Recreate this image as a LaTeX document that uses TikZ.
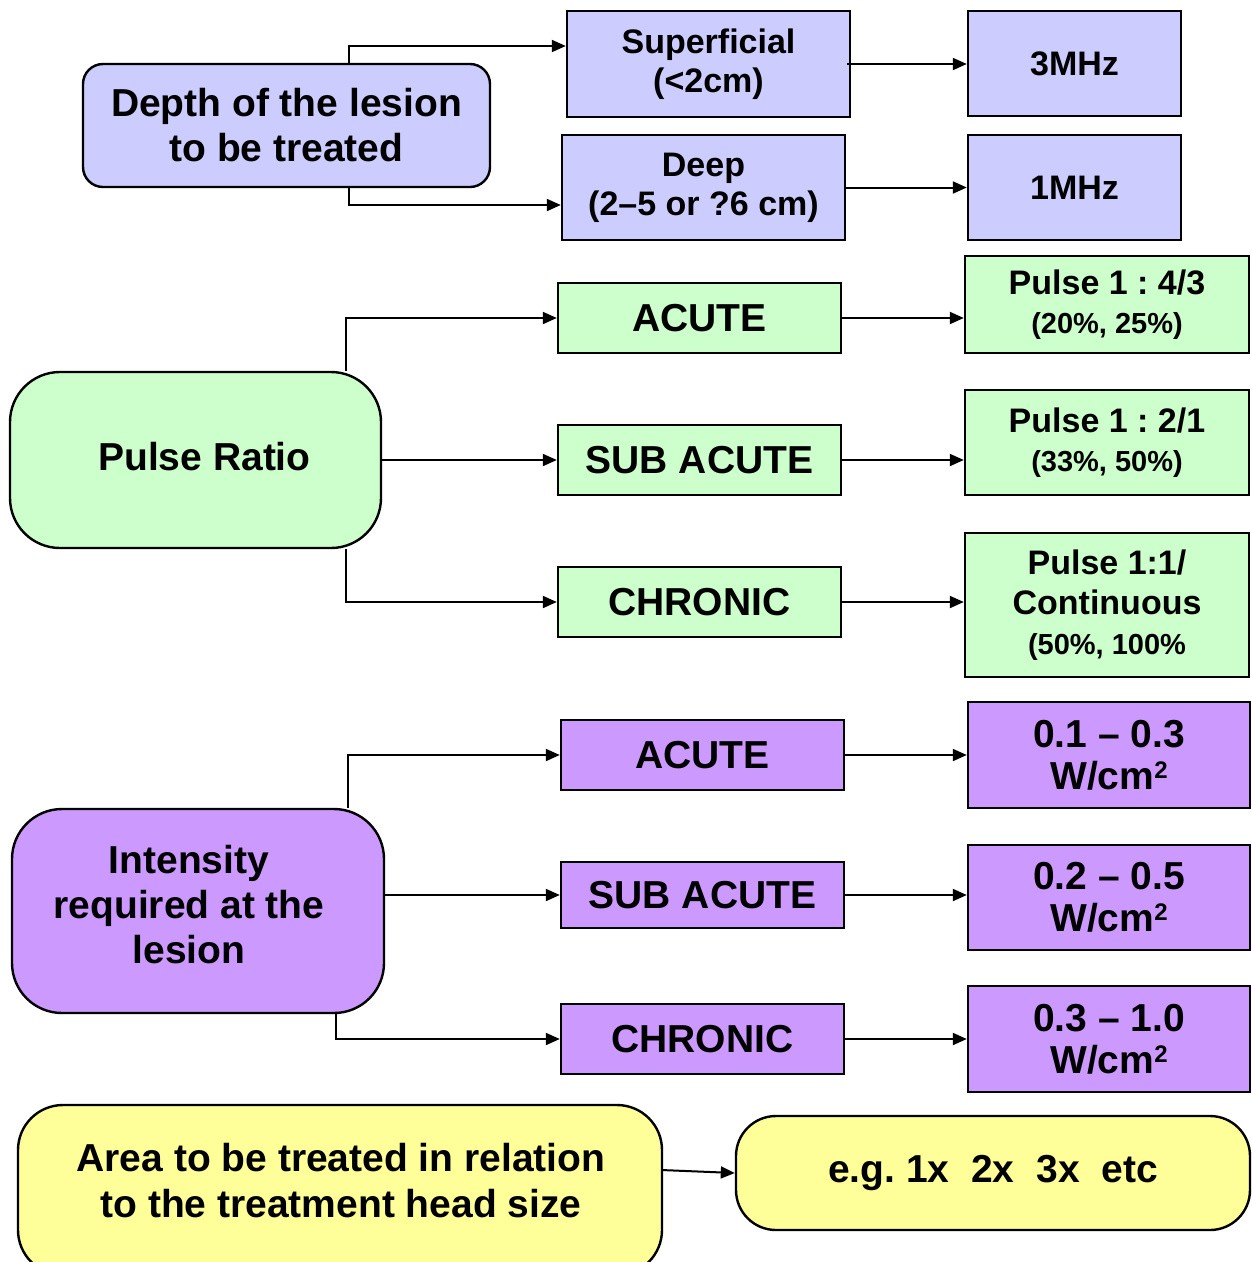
\documentclass[tikz,border=0pt]{standalone}
\usepackage{fontspec}
\setmainfont{Liberation Sans}
\usetikzlibrary{arrows.meta,calc}

\definecolor{lav}{HTML}{CCCCFF}
\definecolor{mint}{HTML}{CCFFCC}
\definecolor{lilac}{HTML}{CC99FF}
\definecolor{lemon}{HTML}{FFFF99}

\newcommand\szL{\fontsize{39}{45}\selectfont}
\newcommand\szW{\fontsize{39}{42}\selectfont}
\newcommand\szM{\fontsize{34}{39}\selectfont}
\newcommand\szS{\fontsize{29}{36}\selectfont}
% squared unit with a larger raised 2
\newcommand\sqcm{W/cm\raisebox{11pt}{\fontsize{24}{24}\selectfont 2}}

\frenchspacing

\begin{document}
\begin{tikzpicture}[x=1pt,y=-1pt,
  box/.style={draw=black, line width=2.4pt, inner sep=0pt, align=center, font=\bfseries},
  dims/.style 2 args={minimum width=#1pt, minimum height=#2pt},
  arr/.style={line width=2pt, -{Triangle[length=14pt,width=12pt]}},
  plain/.style={inner sep=0pt, align=center, font=\bfseries},
]
\useasboundingbox (0,0) rectangle (1252,1262);
\clip (0,0) rectangle (1252,1262);

% ---- depth of the lesion -> frequency
\node[box, fill=lav, rounded corners=20pt, dims={407}{123}, font=\bfseries\szL] (dep) at (286.5,125.5) {Depth of the lesion\\to be treated};
\node[box, fill=lav, dims={283}{106}, font=\bfseries\szM] (sup) at (708.5,64) {Superficial\\(<2cm)};
\node[box, fill=lav, dims={283}{105}, font=\bfseries\szM] (deep) at (703.5,187.5) {Deep\\(2–5 or ?6 cm)};
\node[box, fill=lav, dims={213}{105}, font=\bfseries\szM] (f3) at (1074.5,63.5) {3MHz};
\node[box, fill=lav, dims={213}{105}, font=\bfseries\szM] (f1) at (1074.5,187.5) {1MHz};

\draw[arr] ([xshift=62.5pt]dep.north) |- ([yshift=18pt]sup.west);
\draw[arr] ([xshift=62.5pt]dep.south) |- ([yshift=-17.5pt]deep.west);
\draw[arr] ([xshift=-4pt]sup.east) -- (sup.east -| f3.west);
\draw[arr] (deep.east) -- (deep.east -| f1.west);

% ---- pulse ratio
\node[box, fill=mint, rounded corners=50pt, dims={371}{176}] (pr) at (195.5,460) {};
\node[plain, font=\bfseries\szL] (prtxt) at (204.5,457) {Pulse Ratio};
\node[box, fill=mint, dims={283}{70}, font=\bfseries\szL] (pa) at (699.5,318) {ACUTE};
\node[box, fill=mint, dims={283}{70}, font=\bfseries\szL] (ps) at (699.5,460) {SUB ACUTE};
\node[box, fill=mint, dims={283}{70}, font=\bfseries\szL] (pc) at (699.5,602) {CHRONIC};
\node[box, fill=mint, dims={284}{97}, font=\bfseries\szM] (r1) at (1107,304.5) {Pulse 1 : 4/3\\{\szS(20\%, 25\%)}};
\node[box, fill=mint, dims={284}{105}, font=\bfseries\szM] (r2) at (1107,442.5) {Pulse 1 : 2/1\\{\szS(33\%, 50\%)}};
\node[box, fill=mint, dims={284}{144}, font=\bfseries\fontsize{34}{40}\selectfont] (r3) at (1107,605) {Pulse 1:1/\\Continuous\\{\szS(50\%, 100\%}};

\draw[arr] ([xshift=150.5pt]pr.north) |- (pa.west);
\draw[arr] (pr.east |- ps.west) -- (ps.west);
\draw[arr] ([xshift=150.5pt]pr.south) |- (pc.west);
\draw[arr] (pa.east) -- (pa.east -| r1.west);
\draw[arr] (ps.east) -- (ps.east -| r2.west);
\draw[arr] (pc.east) -- (pc.east -| r3.west);

% ---- intensity
\node[box, fill=lilac, rounded corners=50pt, dims={372}{204}] (inten) at (198,911) {};
\node[plain, font=\bfseries\szL] (intxt) at (189,905) {Intensity\\required at the\\lesion};
\node[box, fill=lilac, dims={283}{70}, font=\bfseries\szL] (ia) at (702.5,755) {ACUTE};
\node[box, fill=lilac, dims={283}{66}, font=\bfseries\szL] (is) at (702.5,895) {SUB ACUTE};
\node[box, fill=lilac, dims={283}{70}, font=\bfseries\szL] (ic) at (702.5,1039) {CHRONIC};
\node[box, fill=lilac, dims={282}{106}, font=\bfseries\szW] (w1) at (1109,755) {0.1 – 0.3\\\sqcm};
\node[box, fill=lilac, dims={282}{105}, font=\bfseries\szW] (w2) at (1109,897.5) {0.2 – 0.5\\\sqcm};
\node[box, fill=lilac, dims={282}{106}, font=\bfseries\szW] (w3) at (1109,1039) {0.3 – 1.0\\\sqcm};

\draw[arr] ([xshift=150pt]inten.north) |- (ia.west);
\draw[arr] (inten.east |- is.west) -- (is.west);
\draw[arr] ([xshift=138pt]inten.south) |- (ic.west);
\draw[arr] (ia.east) -- (ia.east -| w1.west);
\draw[arr] (is.east) -- (is.east -| w2.west);
\draw[arr] (ic.east) -- (ic.east -| w3.west);

% ---- treatment area
\node[box, fill=lemon, rounded corners=45pt, dims={644}{170}] (area) at (340,1190) {};
\node[plain, font=\bfseries\fontsize{39}{46}\selectfont] (areatxt) at (341,1181) {Area to be treated in relation\\to the treatment head size};
\node[box, fill=lemon, rounded corners=40pt, dims={514}{114}, font=\bfseries\szL] (eg) at (993,1173) {e.g. 1x~~2x~~3x~~etc};

\draw[arr] ([yshift=20pt,xshift=-2pt]area.east) -- (eg.west);
\end{tikzpicture}
\end{document}
